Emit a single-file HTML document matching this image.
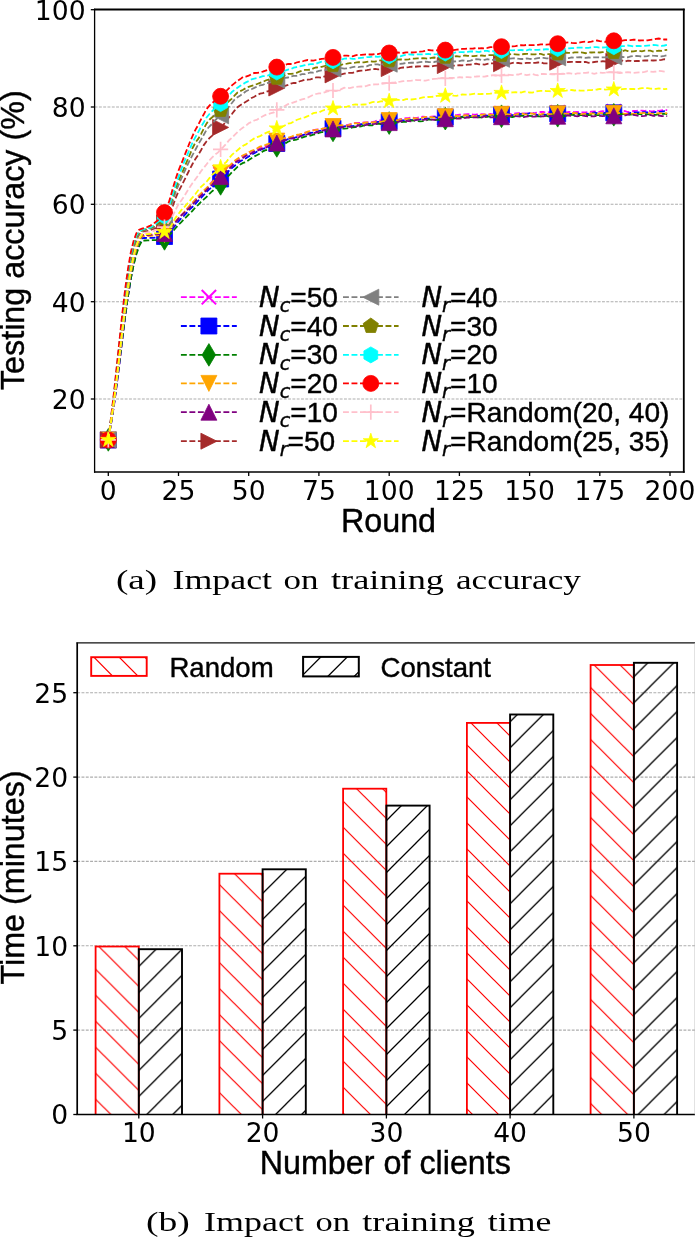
<!DOCTYPE html>
<html lang="en"><head><meta charset="utf-8"><title>Impact of number of clients</title>
<style>html,body{margin:0;padding:0;background:#fff}svg{display:block;will-change:transform}</style></head>
<body>
<svg width="695" height="1240" viewBox="0 0 695 1240">
<rect width="695" height="1240" fill="#fff"/>
<defs>
<clipPath id="ca"><rect x="94.6" y="9.5" width="589.2" height="462.5"/></clipPath>
</defs>
<g stroke="#adadad" stroke-width="1.1" stroke-dasharray="2.9 1.4" fill="none">
<path d="M94.6 399.0H683.8"/>
<path d="M94.6 301.7H683.8"/>
<path d="M94.6 204.3H683.8"/>
<path d="M94.6 107.0H683.8"/>
</g>
<g clip-path="url(#ca)">
<path d="M108.3 439.9L111.1 423.6L113.9 406.1L116.7 385.4L119.5 363.1L122.3 339.7L125.2 316.4L128.0 296.2L130.8 278.2L133.6 263.3L136.4 251.2L139.2 242.1L142.0 235.2L144.8 235.1L147.6 235.1L150.4 235.0L153.2 234.7L156.0 234.4L158.9 234.3L161.7 234.2L164.5 233.5L167.3 231.4L170.1 228.4L172.9 224.2L175.7 221.1L178.5 218.5L181.3 215.5L184.1 212.7L186.9 208.8L189.7 206.0L192.6 203.0L195.4 199.7L198.2 197.3L201.0 194.1L203.8 191.7L206.6 188.7L209.4 185.5L212.2 181.7L215.0 178.7L217.8 176.6L220.6 174.2L223.4 171.5L226.3 168.9L229.1 166.9L231.9 165.0L234.7 162.6L237.5 159.5L240.3 156.9L243.1 155.9L245.9 154.6L248.7 152.5L251.5 151.4L254.3 150.3L257.2 149.0L260.0 148.0L262.8 147.0L265.6 146.1L268.4 144.5L271.2 143.3L274.0 142.1L276.8 141.6L279.6 141.4L282.4 139.8L285.2 138.2L288.0 138.0L290.9 137.6L293.7 136.9L296.5 136.0L299.3 135.0L302.1 134.1L304.9 132.7L307.7 132.2L310.5 131.4L313.3 130.2L316.1 129.6L318.9 129.5L321.7 128.9L324.6 128.2L327.4 128.2L330.2 128.1L333.0 127.0L335.8 126.0L338.6 125.9L341.4 126.0L344.2 125.5L347.0 125.1L349.8 124.5L352.6 123.4L355.4 122.9L358.3 122.9L361.1 122.7L363.9 122.4L366.7 122.3L369.5 122.2L372.3 122.1L375.1 121.3L377.9 120.3L380.7 120.4L383.5 120.8L386.3 120.7L389.2 120.1L392.0 119.8L394.8 119.6L397.6 119.8L400.4 119.2L403.2 118.8L406.0 118.1L408.8 117.9L411.6 117.5L414.4 117.9L417.2 117.8L420.0 117.2L422.9 116.7L425.7 116.8L428.5 117.2L431.3 116.7L434.1 116.5L436.9 116.5L439.7 116.2L442.5 115.4L445.3 115.8L448.1 115.9L450.9 115.3L453.7 115.2L456.6 115.1L459.4 114.7L462.2 114.5L465.0 114.4L467.8 114.1L470.6 114.3L473.4 114.6L476.2 114.5L479.0 114.3L481.8 114.1L484.6 114.5L487.4 114.6L490.3 114.0L493.1 114.3L495.9 114.3L498.7 113.6L501.5 113.3L504.3 113.2L507.1 113.5L509.9 113.8L512.7 113.8L515.5 113.4L518.3 113.2L521.1 113.3L524.0 113.3L526.8 113.4L529.6 113.2L532.4 113.4L535.2 112.9L538.0 112.3L540.8 111.9L543.6 112.0L546.4 112.8L549.2 112.2L552.0 111.8L554.9 112.0L557.7 112.4L560.5 112.0L563.3 111.7L566.1 112.5L568.9 112.0L571.7 111.7L574.5 112.1L577.3 112.0L580.1 112.4L582.9 112.5L585.7 112.3L588.6 111.9L591.4 111.7L594.2 111.5L597.0 111.9L599.8 111.7L602.6 111.2L605.4 111.4L608.2 111.8L611.0 111.4L613.8 111.4L616.6 111.2L619.4 111.0L622.3 110.7L625.1 111.2L627.9 112.0L630.7 111.7L633.5 111.0L636.3 110.8L639.1 110.5L641.9 110.7L644.7 110.9L647.5 110.6L650.3 111.1L653.1 111.3L656.0 110.3L658.8 110.9L661.6 110.4L664.4 110.0L667.2 110.2" fill="none" stroke="#ff00ff" stroke-width="1.8" stroke-dasharray="5.9 2.6"/>
<path d="M101.1 432.7L115.5 447.1M101.1 447.1L115.5 432.7" stroke="#ff00ff" stroke-width="2" fill="none"/>
<path d="M157.3 226.3L171.7 240.7M157.3 240.7L171.7 226.3" stroke="#ff00ff" stroke-width="2" fill="none"/>
<path d="M213.4 167.0L227.8 181.4M213.4 181.4L227.8 167.0" stroke="#ff00ff" stroke-width="2" fill="none"/>
<path d="M269.6 134.4L284.0 148.8M269.6 148.8L284.0 134.4" stroke="#ff00ff" stroke-width="2" fill="none"/>
<path d="M325.8 119.8L340.2 134.2M325.8 134.2L340.2 119.8" stroke="#ff00ff" stroke-width="2" fill="none"/>
<path d="M382.0 112.9L396.4 127.3M382.0 127.3L396.4 112.9" stroke="#ff00ff" stroke-width="2" fill="none"/>
<path d="M438.1 108.6L452.5 123.0M438.1 123.0L452.5 108.6" stroke="#ff00ff" stroke-width="2" fill="none"/>
<path d="M494.3 106.1L508.7 120.5M494.3 120.5L508.7 106.1" stroke="#ff00ff" stroke-width="2" fill="none"/>
<path d="M550.5 105.2L564.9 119.6M550.5 119.6L564.9 105.2" stroke="#ff00ff" stroke-width="2" fill="none"/>
<path d="M606.6 104.2L621.0 118.6M606.6 118.6L621.0 104.2" stroke="#ff00ff" stroke-width="2" fill="none"/>
<path d="M108.3 439.9L111.1 423.3L113.9 405.6L116.7 384.7L119.5 362.5L122.3 339.1L125.2 316.2L128.0 296.3L130.8 278.7L133.6 264.4L136.4 252.9L139.2 244.4L142.0 238.2L144.8 238.0L147.6 237.9L150.4 237.9L153.2 237.8L156.0 237.5L158.9 237.2L161.7 236.7L164.5 236.5L167.3 234.0L170.1 231.5L172.9 228.4L175.7 224.9L178.5 221.3L181.3 218.2L184.1 215.7L186.9 212.6L189.7 209.4L192.6 206.8L195.4 203.9L198.2 200.7L201.0 197.9L203.8 194.9L206.6 191.8L209.4 189.1L212.2 187.0L215.0 184.5L217.8 181.6L220.6 179.0L223.4 176.9L226.3 173.4L229.1 170.6L231.9 168.0L234.7 165.8L237.5 163.0L240.3 161.3L243.1 159.8L245.9 158.3L248.7 156.4L251.5 154.7L254.3 153.2L257.2 151.5L260.0 150.2L262.8 148.8L265.6 148.0L268.4 147.1L271.2 145.6L274.0 144.1L276.8 143.5L279.6 142.3L282.4 142.1L285.2 140.5L288.0 139.1L290.9 138.6L293.7 138.1L296.5 137.1L299.3 136.3L302.1 135.3L304.9 134.4L307.7 133.3L310.5 132.9L313.3 132.6L316.1 131.5L318.9 130.8L321.7 130.7L324.6 130.5L327.4 130.2L330.2 128.9L333.0 128.4L335.8 129.1L338.6 128.5L341.4 127.3L344.2 126.4L347.0 126.2L349.8 125.9L352.6 126.1L355.4 125.7L358.3 124.6L361.1 124.2L363.9 124.0L366.7 123.5L369.5 123.8L372.3 123.4L375.1 122.4L377.9 121.9L380.7 122.0L383.5 121.6L386.3 121.8L389.2 121.6L392.0 121.6L394.8 121.7L397.6 120.8L400.4 120.2L403.2 120.3L406.0 119.9L408.8 119.5L411.6 120.1L414.4 120.2L417.2 119.7L420.0 119.3L422.9 118.3L425.7 118.3L428.5 118.7L431.3 118.1L434.1 117.0L436.9 117.7L439.7 117.9L442.5 117.3L445.3 117.2L448.1 117.0L450.9 117.4L453.7 117.2L456.6 116.5L459.4 116.6L462.2 116.8L465.0 115.8L467.8 115.6L470.6 115.9L473.4 115.9L476.2 115.7L479.0 115.9L481.8 116.0L484.6 115.5L487.4 115.7L490.3 115.3L493.1 115.5L495.9 115.2L498.7 114.7L501.5 114.8L504.3 115.1L507.1 115.4L509.9 115.2L512.7 115.1L515.5 114.8L518.3 114.3L521.1 113.8L524.0 113.7L526.8 114.0L529.6 113.1L532.4 113.1L535.2 114.3L538.0 115.0L540.8 114.4L543.6 114.3L546.4 114.8L549.2 114.2L552.0 114.1L554.9 114.1L557.7 113.8L560.5 113.4L563.3 113.7L566.1 113.7L568.9 113.9L571.7 113.9L574.5 113.5L577.3 113.3L580.1 113.9L582.9 114.2L585.7 113.6L588.6 113.8L591.4 113.2L594.2 112.5L597.0 113.1L599.8 113.7L602.6 113.6L605.4 112.7L608.2 112.7L611.0 112.6L613.8 112.8L616.6 112.7L619.4 113.0L622.3 113.5L625.1 114.1L627.9 113.6L630.7 112.8L633.5 112.5L636.3 112.3L639.1 112.4L641.9 112.2L644.7 112.1L647.5 112.5L650.3 112.6L653.1 112.7L656.0 111.9L658.8 111.8L661.6 111.6L664.4 111.1L667.2 111.3" fill="none" stroke="#0000ff" stroke-width="1.8" stroke-dasharray="5.9 2.6"/>
<polygon points="100.3,431.9 116.3,431.9 116.3,447.9 100.3,447.9" fill="#0000ff" stroke="#0000ff" stroke-width="0.8"/>
<polygon points="156.5,228.5 172.5,228.5 172.5,244.5 156.5,244.5" fill="#0000ff" stroke="#0000ff" stroke-width="0.8"/>
<polygon points="212.6,171.0 228.6,171.0 228.6,187.0 212.6,187.0" fill="#0000ff" stroke="#0000ff" stroke-width="0.8"/>
<polygon points="268.8,135.5 284.8,135.5 284.8,151.5 268.8,151.5" fill="#0000ff" stroke="#0000ff" stroke-width="0.8"/>
<polygon points="325.0,120.4 341.0,120.4 341.0,136.4 325.0,136.4" fill="#0000ff" stroke="#0000ff" stroke-width="0.8"/>
<polygon points="381.2,113.6 397.2,113.6 397.2,129.6 381.2,129.6" fill="#0000ff" stroke="#0000ff" stroke-width="0.8"/>
<polygon points="437.3,109.2 453.3,109.2 453.3,125.2 437.3,125.2" fill="#0000ff" stroke="#0000ff" stroke-width="0.8"/>
<polygon points="493.5,106.8 509.5,106.8 509.5,122.8 493.5,122.8" fill="#0000ff" stroke="#0000ff" stroke-width="0.8"/>
<polygon points="549.7,105.8 565.7,105.8 565.7,121.8 549.7,121.8" fill="#0000ff" stroke="#0000ff" stroke-width="0.8"/>
<polygon points="605.8,104.8 621.8,104.8 621.8,120.8 605.8,120.8" fill="#0000ff" stroke="#0000ff" stroke-width="0.8"/>
<path d="M108.3 439.9L111.1 423.0L113.9 405.0L116.7 383.9L119.5 361.6L122.3 338.4L125.2 315.6L128.0 296.1L130.8 278.9L133.6 265.0L136.4 254.1L139.2 246.2L142.0 240.6L144.8 240.5L147.6 240.4L150.4 240.2L153.2 240.1L156.0 240.0L158.9 239.7L161.7 240.1L164.5 238.9L167.3 237.6L170.1 234.4L172.9 231.3L175.7 228.0L178.5 224.8L181.3 222.2L184.1 219.1L186.9 216.4L189.7 213.6L192.6 210.7L195.4 207.4L198.2 204.8L201.0 201.9L203.8 199.3L206.6 196.9L209.4 193.9L212.2 191.2L215.0 188.9L217.8 186.6L220.6 183.9L223.4 180.6L226.3 177.4L229.1 175.3L231.9 172.3L234.7 169.6L237.5 166.8L240.3 164.5L243.1 162.9L245.9 162.2L248.7 160.1L251.5 158.2L254.3 156.4L257.2 155.0L260.0 153.5L262.8 151.4L265.6 150.1L268.4 150.2L271.2 148.6L274.0 146.9L276.8 145.9L279.6 145.2L282.4 144.6L285.2 143.4L288.0 141.7L290.9 140.5L293.7 140.1L296.5 139.6L299.3 138.5L302.1 137.6L304.9 136.6L307.7 136.0L310.5 135.5L313.3 134.7L316.1 134.2L318.9 132.9L321.7 132.2L324.6 132.2L327.4 131.5L330.2 131.1L333.0 130.4L335.8 129.4L338.6 129.2L341.4 128.7L344.2 128.6L347.0 128.4L349.8 128.0L352.6 127.4L355.4 127.0L358.3 126.6L361.1 126.3L363.9 125.5L366.7 125.0L369.5 125.4L372.3 125.3L375.1 124.3L377.9 123.7L380.7 124.0L383.5 124.1L386.3 123.2L389.2 123.1L392.0 123.2L394.8 122.6L397.6 122.4L400.4 122.3L403.2 121.8L406.0 121.9L408.8 121.2L411.6 120.5L414.4 120.7L417.2 121.1L420.0 121.3L422.9 121.1L425.7 120.6L428.5 119.4L431.3 119.6L434.1 120.0L436.9 119.9L439.7 119.6L442.5 119.3L445.3 118.7L448.1 118.1L450.9 118.5L453.7 118.6L456.6 117.9L459.4 117.1L462.2 117.1L465.0 117.6L467.8 117.4L470.6 117.2L473.4 116.9L476.2 117.0L479.0 117.4L481.8 117.4L484.6 116.9L487.4 116.8L490.3 116.1L493.1 116.4L495.9 116.8L498.7 116.6L501.5 116.2L504.3 116.2L507.1 116.0L509.9 116.8L512.7 117.0L515.5 116.2L518.3 116.1L521.1 115.9L524.0 115.9L526.8 115.9L529.6 115.8L532.4 116.2L535.2 116.1L538.0 116.4L540.8 116.4L543.6 115.7L546.4 115.8L549.2 116.7L552.0 116.5L554.9 115.7L557.7 115.8L560.5 115.9L563.3 116.0L566.1 115.9L568.9 114.8L571.7 114.9L574.5 115.0L577.3 115.0L580.1 114.9L582.9 115.0L585.7 115.2L588.6 115.0L591.4 114.9L594.2 114.7L597.0 115.2L599.8 115.2L602.6 114.6L605.4 114.3L608.2 114.7L611.0 115.1L613.8 114.8L616.6 114.7L619.4 114.0L622.3 113.9L625.1 114.0L627.9 114.4L630.7 114.6L633.5 114.0L636.3 113.7L639.1 114.1L641.9 114.3L644.7 114.1L647.5 114.3L650.3 114.3L653.1 114.7L656.0 114.8L658.8 114.2L661.6 113.9L664.4 113.6L667.2 114.2" fill="none" stroke="#008000" stroke-width="1.8" stroke-dasharray="5.9 2.6"/>
<polygon points="108.3,428.6 115.1,439.9 108.3,451.2 101.5,439.9" fill="#008000" stroke="#008000" stroke-width="0.8"/>
<polygon points="164.5,227.6 171.3,238.9 164.5,250.2 157.7,238.9" fill="#008000" stroke="#008000" stroke-width="0.8"/>
<polygon points="220.6,172.6 227.4,183.9 220.6,195.2 213.9,183.9" fill="#008000" stroke="#008000" stroke-width="0.8"/>
<polygon points="276.8,134.6 283.6,145.9 276.8,157.2 270.0,145.9" fill="#008000" stroke="#008000" stroke-width="0.8"/>
<polygon points="333.0,119.0 339.8,130.4 333.0,141.7 326.2,130.4" fill="#008000" stroke="#008000" stroke-width="0.8"/>
<polygon points="389.2,111.7 395.9,123.1 389.2,134.4 382.4,123.1" fill="#008000" stroke="#008000" stroke-width="0.8"/>
<polygon points="445.3,107.4 452.1,118.7 445.3,130.0 438.5,118.7" fill="#008000" stroke="#008000" stroke-width="0.8"/>
<polygon points="501.5,104.9 508.3,116.2 501.5,127.6 494.7,116.2" fill="#008000" stroke="#008000" stroke-width="0.8"/>
<polygon points="557.7,104.4 564.4,115.8 557.7,127.1 550.9,115.8" fill="#008000" stroke="#008000" stroke-width="0.8"/>
<polygon points="613.8,103.5 620.6,114.8 613.8,126.1 607.0,114.8" fill="#008000" stroke="#008000" stroke-width="0.8"/>
<path d="M108.3 439.9L111.1 422.0L113.9 403.0L116.7 381.0L119.5 357.8L122.3 333.9L125.2 310.5L128.0 290.6L130.8 273.3L133.6 259.5L136.4 248.9L139.2 241.4L142.0 236.2L144.8 236.1L147.6 236.0L150.4 235.9L153.2 235.7L156.0 235.5L158.9 235.1L161.7 234.9L164.5 234.5L167.3 232.2L170.1 229.1L172.9 226.0L175.7 221.6L178.5 218.1L181.3 215.3L184.1 212.3L186.9 209.3L189.7 205.6L192.6 202.7L195.4 199.6L198.2 196.2L201.0 193.4L203.8 190.4L206.6 187.9L209.4 185.0L212.2 182.2L215.0 178.8L217.8 175.5L220.6 173.2L223.4 170.4L226.3 168.5L229.1 166.1L231.9 163.4L234.7 160.8L237.5 158.7L240.3 157.0L243.1 155.3L245.9 154.0L248.7 152.4L251.5 150.7L254.3 149.8L257.2 148.3L260.0 146.7L262.8 145.8L265.6 144.9L268.4 143.9L271.2 142.6L274.0 142.8L276.8 141.1L279.6 140.5L282.4 138.7L285.2 138.0L288.0 137.6L290.9 137.0L293.7 135.7L296.5 134.9L299.3 134.5L302.1 134.0L304.9 133.1L307.7 131.7L310.5 130.9L313.3 130.3L316.1 129.9L318.9 129.7L321.7 128.8L324.6 128.3L327.4 127.4L330.2 126.8L333.0 126.5L335.8 126.4L338.6 125.4L341.4 125.1L344.2 125.5L347.0 125.8L349.8 124.6L352.6 123.6L355.4 123.2L358.3 123.6L361.1 123.5L363.9 123.0L366.7 122.4L369.5 122.7L372.3 122.4L375.1 122.1L377.9 121.8L380.7 121.8L383.5 121.2L386.3 121.0L389.2 120.6L392.0 120.1L394.8 119.9L397.6 120.3L400.4 119.5L403.2 119.2L406.0 119.2L408.8 118.6L411.6 118.5L414.4 118.2L417.2 118.6L420.0 118.5L422.9 117.5L425.7 116.8L428.5 117.1L431.3 117.2L434.1 117.6L436.9 117.8L439.7 117.1L442.5 116.6L445.3 116.7L448.1 117.2L450.9 117.2L453.7 116.4L456.6 115.9L459.4 116.4L462.2 116.0L465.0 115.2L467.8 115.5L470.6 116.0L473.4 116.2L476.2 115.9L479.0 115.0L481.8 114.9L484.6 114.3L487.4 114.3L490.3 114.8L493.1 114.7L495.9 114.2L498.7 114.2L501.5 114.3L504.3 114.7L507.1 114.2L509.9 114.7L512.7 115.2L515.5 114.6L518.3 113.8L521.1 113.3L524.0 114.1L526.8 114.3L529.6 113.4L532.4 113.7L535.2 114.2L538.0 114.5L540.8 114.3L543.6 113.5L546.4 113.9L549.2 114.2L552.0 113.9L554.9 113.4L557.7 113.8L560.5 113.6L563.3 113.5L566.1 113.7L568.9 113.9L571.7 113.3L574.5 112.9L577.3 113.5L580.1 114.1L582.9 114.1L585.7 113.6L588.6 113.6L591.4 113.5L594.2 113.6L597.0 113.9L599.8 113.2L602.6 113.2L605.4 113.3L608.2 113.1L611.0 112.9L613.8 113.3L616.6 113.5L619.4 113.0L622.3 113.4L625.1 113.9L627.9 114.0L630.7 113.7L633.5 113.8L636.3 113.6L639.1 113.2L641.9 113.1L644.7 112.9L647.5 113.1L650.3 113.5L653.1 113.6L656.0 113.5L658.8 113.1L661.6 113.3L664.4 113.4L667.2 113.1" fill="none" stroke="#ffa500" stroke-width="1.8" stroke-dasharray="5.9 2.6"/>
<polygon points="108.3,447.9 100.3,431.9 116.3,431.9" fill="#ffa500" stroke="#ffa500" stroke-width="0.8"/>
<polygon points="164.5,242.5 156.5,226.5 172.5,226.5" fill="#ffa500" stroke="#ffa500" stroke-width="0.8"/>
<polygon points="220.6,181.2 212.6,165.2 228.6,165.2" fill="#ffa500" stroke="#ffa500" stroke-width="0.8"/>
<polygon points="276.8,149.1 268.8,133.1 284.8,133.1" fill="#ffa500" stroke="#ffa500" stroke-width="0.8"/>
<polygon points="333.0,134.5 325.0,118.5 341.0,118.5" fill="#ffa500" stroke="#ffa500" stroke-width="0.8"/>
<polygon points="389.2,128.6 381.2,112.6 397.2,112.6" fill="#ffa500" stroke="#ffa500" stroke-width="0.8"/>
<polygon points="445.3,124.7 437.3,108.7 453.3,108.7" fill="#ffa500" stroke="#ffa500" stroke-width="0.8"/>
<polygon points="501.5,122.3 493.5,106.3 509.5,106.3" fill="#ffa500" stroke="#ffa500" stroke-width="0.8"/>
<polygon points="557.7,121.8 549.7,105.8 565.7,105.8" fill="#ffa500" stroke="#ffa500" stroke-width="0.8"/>
<polygon points="613.8,121.3 605.8,105.3 621.8,105.3" fill="#ffa500" stroke="#ffa500" stroke-width="0.8"/>
<path d="M108.3 439.9L111.1 421.3L113.9 401.8L116.7 379.2L119.5 355.5L122.3 331.2L125.2 307.7L128.0 287.8L130.8 270.6L133.6 257.1L136.4 246.8L139.2 239.9L142.0 235.2L144.8 235.1L147.6 235.0L150.4 234.9L153.2 234.6L156.0 234.3L158.9 234.0L161.7 234.0L164.5 233.5L167.3 232.0L170.1 228.9L172.9 226.1L175.7 222.1L178.5 218.6L181.3 215.3L184.1 212.8L186.9 210.4L189.7 207.7L192.6 204.5L195.4 201.3L198.2 198.3L201.0 195.7L203.8 193.0L206.6 189.9L209.4 186.9L212.2 184.7L215.0 181.7L217.8 178.5L220.6 176.6L223.4 174.0L226.3 171.3L229.1 169.0L231.9 166.2L234.7 163.0L237.5 161.0L240.3 160.1L243.1 157.8L245.9 155.7L248.7 154.9L251.5 153.3L254.3 151.5L257.2 150.7L260.0 149.4L262.8 148.5L265.6 147.8L268.4 146.2L271.2 144.9L274.0 143.4L276.8 143.0L279.6 141.6L282.4 141.2L285.2 140.2L288.0 139.2L290.9 138.4L293.7 138.3L296.5 137.9L299.3 137.0L302.1 135.5L304.9 134.7L307.7 134.4L310.5 133.8L313.3 133.1L316.1 132.5L318.9 131.8L321.7 130.9L324.6 129.8L327.4 129.6L330.2 129.7L333.0 128.9L335.8 128.0L338.6 127.7L341.4 127.4L344.2 126.8L347.0 126.4L349.8 126.9L352.6 126.9L355.4 126.6L358.3 125.6L361.1 125.4L363.9 125.3L366.7 124.9L369.5 124.2L372.3 124.1L375.1 123.9L377.9 123.3L380.7 123.7L383.5 123.3L386.3 122.0L389.2 122.6L392.0 122.7L394.8 122.5L397.6 121.9L400.4 121.3L403.2 121.0L406.0 120.9L408.8 121.2L411.6 121.3L414.4 120.4L417.2 119.6L420.0 119.6L422.9 119.8L425.7 119.5L428.5 119.7L431.3 119.7L434.1 119.8L436.9 119.4L439.7 119.0L442.5 118.8L445.3 118.7L448.1 117.6L450.9 117.7L453.7 118.3L456.6 118.6L459.4 118.5L462.2 118.4L465.0 117.9L467.8 117.5L470.6 117.4L473.4 117.4L476.2 117.3L479.0 117.4L481.8 117.3L484.6 116.4L487.4 116.5L490.3 117.3L493.1 117.4L495.9 117.2L498.7 116.7L501.5 116.7L504.3 116.0L507.1 116.0L509.9 115.9L512.7 115.9L515.5 116.1L518.3 116.3L521.1 116.7L524.0 117.2L526.8 116.5L529.6 115.9L532.4 116.5L535.2 116.6L538.0 116.1L540.8 116.3L543.6 116.3L546.4 115.7L549.2 115.8L552.0 116.0L554.9 116.3L557.7 116.2L560.5 115.9L563.3 115.7L566.1 115.5L568.9 115.5L571.7 115.8L574.5 115.9L577.3 116.3L580.1 115.8L582.9 115.7L585.7 116.1L588.6 116.3L591.4 116.2L594.2 116.3L597.0 115.8L599.8 115.8L602.6 116.1L605.4 115.7L608.2 115.2L611.0 115.1L613.8 115.8L616.6 115.7L619.4 116.0L622.3 115.9L625.1 115.3L627.9 114.6L630.7 114.7L633.5 114.8L636.3 115.3L639.1 116.2L641.9 116.1L644.7 115.8L647.5 115.1L650.3 115.0L653.1 115.8L656.0 115.8L658.8 115.6L661.6 116.0L664.4 116.1L667.2 116.1" fill="none" stroke="#800080" stroke-width="1.8" stroke-dasharray="5.9 2.6"/>
<polygon points="108.3,431.9 100.3,447.9 116.3,447.9" fill="#800080" stroke="#800080" stroke-width="0.8"/>
<polygon points="164.5,225.5 156.5,241.5 172.5,241.5" fill="#800080" stroke="#800080" stroke-width="0.8"/>
<polygon points="220.6,168.6 212.6,184.6 228.6,184.6" fill="#800080" stroke="#800080" stroke-width="0.8"/>
<polygon points="276.8,135.0 268.8,151.0 284.8,151.0" fill="#800080" stroke="#800080" stroke-width="0.8"/>
<polygon points="333.0,120.9 325.0,136.9 341.0,136.9" fill="#800080" stroke="#800080" stroke-width="0.8"/>
<polygon points="389.2,114.6 381.2,130.6 397.2,130.6" fill="#800080" stroke="#800080" stroke-width="0.8"/>
<polygon points="445.3,110.7 437.3,126.7 453.3,126.7" fill="#800080" stroke="#800080" stroke-width="0.8"/>
<polygon points="501.5,108.7 493.5,124.7 509.5,124.7" fill="#800080" stroke="#800080" stroke-width="0.8"/>
<polygon points="557.7,108.2 549.7,124.2 565.7,124.2" fill="#800080" stroke="#800080" stroke-width="0.8"/>
<polygon points="613.8,107.8 605.8,123.8 621.8,123.8" fill="#800080" stroke="#800080" stroke-width="0.8"/>
<path d="M108.3 439.9L111.1 419.5L113.9 398.2L116.7 374.0L119.5 349.0L122.3 323.7L125.2 299.5L128.0 279.5L130.8 262.6L133.6 249.8L136.4 240.6L139.2 235.0L142.0 231.8L144.8 231.2L147.6 230.8L150.4 229.9L153.2 229.0L156.0 228.2L158.9 226.4L161.7 224.8L164.5 222.8L167.3 219.2L170.1 212.8L172.9 205.6L175.7 197.9L178.5 191.5L181.3 186.1L184.1 180.6L186.9 175.0L189.7 169.4L192.6 163.8L195.4 159.0L198.2 154.9L201.0 150.3L203.8 145.1L206.6 141.3L209.4 138.2L212.2 135.6L215.0 132.6L217.8 130.4L220.6 127.4L223.4 124.9L226.3 121.0L229.1 117.2L231.9 114.0L234.7 110.4L237.5 107.2L240.3 105.2L243.1 103.5L245.9 101.7L248.7 100.0L251.5 98.0L254.3 96.7L257.2 95.0L260.0 93.7L262.8 93.2L265.6 92.0L268.4 91.1L271.2 90.4L274.0 89.2L276.8 88.0L279.6 86.8L282.4 86.0L285.2 85.8L288.0 84.9L290.9 83.6L293.7 82.9L296.5 83.0L299.3 81.5L302.1 80.7L304.9 79.8L307.7 79.7L310.5 79.4L313.3 78.4L316.1 77.4L318.9 77.4L321.7 77.6L324.6 76.5L327.4 76.4L330.2 76.0L333.0 74.9L335.8 75.5L338.6 74.9L341.4 74.3L344.2 73.6L347.0 73.0L349.8 72.8L352.6 72.8L355.4 71.9L358.3 71.0L361.1 70.6L363.9 70.6L366.7 70.2L369.5 69.7L372.3 69.1L375.1 68.9L377.9 69.4L380.7 69.2L383.5 68.3L386.3 67.8L389.2 68.6L392.0 69.1L394.8 69.0L397.6 69.2L400.4 67.9L403.2 67.5L406.0 67.5L408.8 67.2L411.6 66.7L414.4 66.8L417.2 66.5L420.0 66.4L422.9 66.3L425.7 66.2L428.5 66.4L431.3 66.5L434.1 65.9L436.9 65.6L439.7 65.7L442.5 65.4L445.3 65.6L448.1 65.9L450.9 65.7L453.7 65.6L456.6 65.5L459.4 65.2L462.2 65.3L465.0 65.1L467.8 64.7L470.6 64.5L473.4 64.1L476.2 63.7L479.0 64.3L481.8 64.4L484.6 64.6L487.4 63.9L490.3 63.4L493.1 63.4L495.9 64.0L498.7 63.8L501.5 63.7L504.3 63.4L507.1 63.3L509.9 63.5L512.7 62.8L515.5 62.7L518.3 63.0L521.1 63.4L524.0 63.2L526.8 62.9L529.6 62.8L532.4 62.9L535.2 62.8L538.0 62.5L540.8 62.3L543.6 63.3L546.4 63.4L549.2 63.3L552.0 63.0L554.9 63.0L557.7 62.2L560.5 62.1L563.3 62.3L566.1 62.3L568.9 62.0L571.7 61.8L574.5 61.9L577.3 62.0L580.1 61.9L582.9 62.1L585.7 61.8L588.6 62.8L591.4 62.4L594.2 62.0L597.0 61.6L599.8 61.8L602.6 61.2L605.4 61.5L608.2 60.7L611.0 60.9L613.8 61.3L616.6 60.7L619.4 60.1L622.3 60.7L625.1 61.6L627.9 60.7L630.7 60.8L633.5 61.3L636.3 60.8L639.1 61.0L641.9 60.6L644.7 60.4L647.5 60.5L650.3 60.3L653.1 60.5L656.0 60.3L658.8 60.3L661.6 59.9L664.4 59.2L667.2 59.5" fill="none" stroke="#a52a2a" stroke-width="1.8" stroke-dasharray="5.9 2.6"/>
<polygon points="116.3,439.9 100.3,431.9 100.3,447.9" fill="#a52a2a" stroke="#a52a2a" stroke-width="0.8"/>
<polygon points="172.5,222.8 156.5,214.8 156.5,230.8" fill="#a52a2a" stroke="#a52a2a" stroke-width="0.8"/>
<polygon points="228.6,127.4 212.6,119.4 212.6,135.4" fill="#a52a2a" stroke="#a52a2a" stroke-width="0.8"/>
<polygon points="284.8,88.0 268.8,80.0 268.8,96.0" fill="#a52a2a" stroke="#a52a2a" stroke-width="0.8"/>
<polygon points="341.0,74.9 325.0,66.9 325.0,82.9" fill="#a52a2a" stroke="#a52a2a" stroke-width="0.8"/>
<polygon points="397.2,68.6 381.2,60.6 381.2,76.6" fill="#a52a2a" stroke="#a52a2a" stroke-width="0.8"/>
<polygon points="453.3,65.6 437.3,57.6 437.3,73.6" fill="#a52a2a" stroke="#a52a2a" stroke-width="0.8"/>
<polygon points="509.5,63.7 493.5,55.7 493.5,71.7" fill="#a52a2a" stroke="#a52a2a" stroke-width="0.8"/>
<polygon points="565.7,62.2 549.7,54.2 549.7,70.2" fill="#a52a2a" stroke="#a52a2a" stroke-width="0.8"/>
<polygon points="621.8,61.3 605.8,53.3 605.8,69.3" fill="#a52a2a" stroke="#a52a2a" stroke-width="0.8"/>
<path d="M108.3 439.9L111.1 418.8L113.9 396.9L116.7 372.2L119.5 346.7L122.3 321.1L125.2 296.8L128.0 276.7L130.8 260.0L133.6 247.5L136.4 238.7L139.2 233.5L142.0 230.9L144.8 230.1L147.6 229.5L150.4 228.7L153.2 227.7L156.0 226.6L158.9 224.9L161.7 222.6L164.5 219.9L167.3 214.7L170.1 208.6L172.9 200.9L175.7 192.0L178.5 185.0L181.3 178.5L184.1 172.4L186.9 166.3L189.7 160.4L192.6 154.9L195.4 149.7L198.2 144.4L201.0 139.7L203.8 134.7L206.6 129.7L209.4 126.5L212.2 123.8L215.0 120.4L217.8 117.7L220.6 115.8L223.4 112.5L226.3 109.4L229.1 106.3L231.9 103.0L234.7 99.4L237.5 97.2L240.3 95.4L243.1 93.5L245.9 91.2L248.7 90.0L251.5 89.2L254.3 87.9L257.2 86.4L260.0 85.4L262.8 85.0L265.6 83.5L268.4 82.8L271.2 82.2L274.0 81.2L276.8 80.2L279.6 78.7L282.4 78.4L285.2 77.9L288.0 77.5L290.9 76.4L293.7 75.8L296.5 75.9L299.3 75.0L302.1 74.1L304.9 74.2L307.7 73.3L310.5 72.5L313.3 72.6L316.1 71.8L318.9 70.9L321.7 70.4L324.6 70.4L327.4 69.5L330.2 69.0L333.0 69.0L335.8 68.1L338.6 68.0L341.4 68.1L344.2 68.6L347.0 68.4L349.8 67.8L352.6 67.1L355.4 66.6L358.3 67.1L361.1 66.7L363.9 66.7L366.7 66.3L369.5 65.2L372.3 64.9L375.1 64.3L377.9 64.4L380.7 65.2L383.5 65.1L386.3 63.9L389.2 64.2L392.0 64.4L394.8 63.7L397.6 63.6L400.4 63.8L403.2 63.5L406.0 63.1L408.8 62.9L411.6 62.6L414.4 62.8L417.2 62.6L420.0 62.2L422.9 61.9L425.7 61.7L428.5 62.0L431.3 62.1L434.1 62.0L436.9 61.4L439.7 61.8L442.5 61.6L445.3 61.3L448.1 61.0L450.9 60.9L453.7 61.5L456.6 61.3L459.4 61.2L462.2 60.3L465.0 60.7L467.8 61.1L470.6 60.6L473.4 59.6L476.2 59.2L479.0 59.4L481.8 60.1L484.6 59.8L487.4 59.2L490.3 59.8L493.1 59.9L495.9 60.0L498.7 59.8L501.5 59.3L504.3 58.8L507.1 58.8L509.9 58.7L512.7 58.3L515.5 58.2L518.3 58.7L521.1 59.0L524.0 59.0L526.8 58.4L529.6 58.8L532.4 59.1L535.2 58.7L538.0 58.2L540.8 57.8L543.6 57.8L546.4 58.3L549.2 58.5L552.0 58.3L554.9 58.4L557.7 57.8L560.5 57.6L563.3 57.9L566.1 58.4L568.9 58.1L571.7 57.4L574.5 57.7L577.3 57.3L580.1 57.2L582.9 57.6L585.7 57.8L588.6 57.5L591.4 57.6L594.2 57.4L597.0 57.3L599.8 57.4L602.6 57.3L605.4 57.3L608.2 57.5L611.0 57.2L613.8 56.9L616.6 57.6L619.4 57.1L622.3 56.9L625.1 57.1L627.9 57.3L630.7 56.4L633.5 56.0L636.3 56.0L639.1 56.2L641.9 56.6L644.7 56.3L647.5 56.1L650.3 55.3L653.1 55.7L656.0 55.8L658.8 56.3L661.6 56.3L664.4 55.8L667.2 55.2" fill="none" stroke="#808080" stroke-width="1.8" stroke-dasharray="5.9 2.6"/>
<polygon points="100.3,439.9 116.3,431.9 116.3,447.9" fill="#808080" stroke="#808080" stroke-width="0.8"/>
<polygon points="156.5,219.9 172.5,211.9 172.5,227.9" fill="#808080" stroke="#808080" stroke-width="0.8"/>
<polygon points="212.6,115.8 228.6,107.8 228.6,123.8" fill="#808080" stroke="#808080" stroke-width="0.8"/>
<polygon points="268.8,80.2 284.8,72.2 284.8,88.2" fill="#808080" stroke="#808080" stroke-width="0.8"/>
<polygon points="325.0,69.0 341.0,61.0 341.0,77.0" fill="#808080" stroke="#808080" stroke-width="0.8"/>
<polygon points="381.2,64.2 397.2,56.2 397.2,72.2" fill="#808080" stroke="#808080" stroke-width="0.8"/>
<polygon points="437.3,61.3 453.3,53.3 453.3,69.3" fill="#808080" stroke="#808080" stroke-width="0.8"/>
<polygon points="493.5,59.3 509.5,51.3 509.5,67.3" fill="#808080" stroke="#808080" stroke-width="0.8"/>
<polygon points="549.7,57.8 565.7,49.8 565.7,65.8" fill="#808080" stroke="#808080" stroke-width="0.8"/>
<polygon points="605.8,56.9 621.8,48.9 621.8,64.9" fill="#808080" stroke="#808080" stroke-width="0.8"/>
<path d="M108.3 439.9L111.1 418.2L113.9 395.7L116.7 370.5L119.5 344.6L122.3 318.7L125.2 294.2L128.0 274.2L130.8 257.6L133.6 245.4L136.4 237.1L139.2 232.4L142.0 230.3L144.8 229.5L147.6 228.9L150.4 228.0L153.2 226.7L156.0 225.1L158.9 223.0L161.7 220.5L164.5 218.0L167.3 212.6L170.1 205.4L172.9 196.3L175.7 187.9L178.5 180.6L181.3 174.7L184.1 168.1L186.9 161.4L189.7 155.0L192.6 148.0L195.4 142.6L198.2 138.9L201.0 134.1L203.8 128.6L206.6 123.4L209.4 119.7L212.2 117.3L215.0 115.4L217.8 113.3L220.6 109.9L223.4 108.0L226.3 104.1L229.1 101.0L231.9 98.6L234.7 95.4L237.5 92.5L240.3 91.1L243.1 89.8L245.9 88.1L248.7 86.8L251.5 85.9L254.3 85.1L257.2 84.0L260.0 82.9L262.8 81.9L265.6 80.5L268.4 79.6L271.2 78.6L274.0 77.5L276.8 77.8L279.6 76.2L282.4 75.9L285.2 75.2L288.0 73.9L290.9 73.9L293.7 73.6L296.5 72.8L299.3 71.7L302.1 70.7L304.9 69.9L307.7 69.9L310.5 69.7L313.3 68.4L316.1 67.5L318.9 67.2L321.7 66.8L324.6 66.0L327.4 65.3L330.2 65.5L333.0 65.1L335.8 65.2L338.6 64.8L341.4 64.8L344.2 63.9L347.0 63.7L349.8 63.2L352.6 63.0L355.4 62.7L358.3 62.1L361.1 62.4L363.9 62.4L366.7 61.8L369.5 61.3L372.3 61.5L375.1 61.6L377.9 60.9L380.7 60.3L383.5 59.8L386.3 60.3L389.2 60.3L392.0 60.5L394.8 60.5L397.6 59.7L400.4 59.3L403.2 59.7L406.0 59.6L408.8 59.3L411.6 58.5L414.4 58.6L417.2 58.4L420.0 58.5L422.9 58.2L425.7 58.4L428.5 58.7L431.3 57.8L434.1 57.5L436.9 58.0L439.7 57.5L442.5 57.3L445.3 56.9L448.1 57.2L450.9 57.4L453.7 56.5L456.6 56.1L459.4 56.6L462.2 56.2L465.0 55.5L467.8 55.8L470.6 56.2L473.4 56.2L476.2 55.8L479.0 55.6L481.8 55.5L484.6 55.8L487.4 55.2L490.3 55.2L493.1 55.1L495.9 55.5L498.7 55.7L501.5 54.9L504.3 55.3L507.1 54.9L509.9 54.3L512.7 54.1L515.5 54.4L518.3 54.7L521.1 54.5L524.0 54.0L526.8 53.8L529.6 54.2L532.4 54.3L535.2 54.3L538.0 53.9L540.8 53.9L543.6 54.8L546.4 54.1L549.2 54.2L552.0 54.5L554.9 53.7L557.7 53.5L560.5 53.4L563.3 53.5L566.1 52.6L568.9 52.9L571.7 53.0L574.5 52.4L577.3 52.4L580.1 52.4L582.9 52.6L585.7 53.2L588.6 52.4L591.4 52.5L594.2 52.4L597.0 52.2L599.8 52.5L602.6 52.2L605.4 51.9L608.2 52.0L611.0 52.1L613.8 52.0L616.6 52.7L619.4 52.4L622.3 51.3L625.1 50.1L627.9 51.0L630.7 51.5L633.5 51.3L636.3 50.8L639.1 50.9L641.9 51.3L644.7 50.7L647.5 50.6L650.3 50.7L653.1 51.5L656.0 51.3L658.8 50.6L661.6 50.8L664.4 50.2L667.2 49.9" fill="none" stroke="#808000" stroke-width="1.8" stroke-dasharray="5.9 2.6"/>
<polygon points="108.3,431.9 115.9,437.4 113.0,446.4 103.6,446.4 100.7,437.4" fill="#808000" stroke="#808000" stroke-width="0.8"/>
<polygon points="164.5,210.0 172.1,215.5 169.2,224.4 159.8,224.4 156.9,215.5" fill="#808000" stroke="#808000" stroke-width="0.8"/>
<polygon points="220.6,101.9 228.2,107.4 225.3,116.4 215.9,116.4 213.0,107.4" fill="#808000" stroke="#808000" stroke-width="0.8"/>
<polygon points="276.8,69.8 284.4,75.3 281.5,84.3 272.1,84.3 269.2,75.3" fill="#808000" stroke="#808000" stroke-width="0.8"/>
<polygon points="333.0,57.1 340.6,62.7 337.7,71.6 328.3,71.6 325.4,62.7" fill="#808000" stroke="#808000" stroke-width="0.8"/>
<polygon points="389.2,52.3 396.8,57.8 393.9,66.8 384.4,66.8 381.5,57.8" fill="#808000" stroke="#808000" stroke-width="0.8"/>
<polygon points="445.3,48.9 452.9,54.4 450.0,63.3 440.6,63.3 437.7,54.4" fill="#808000" stroke="#808000" stroke-width="0.8"/>
<polygon points="501.5,46.9 509.1,52.5 506.2,61.4 496.8,61.4 493.9,52.5" fill="#808000" stroke="#808000" stroke-width="0.8"/>
<polygon points="557.7,45.5 565.3,51.0 562.4,59.9 553.0,59.9 550.1,51.0" fill="#808000" stroke="#808000" stroke-width="0.8"/>
<polygon points="613.8,44.0 621.4,49.5 618.5,58.5 609.1,58.5 606.2,49.5" fill="#808000" stroke="#808000" stroke-width="0.8"/>
<path d="M108.3 439.9L111.1 417.6L113.9 394.5L116.7 368.7L119.5 342.5L122.3 316.2L125.2 291.6L128.0 271.6L130.8 255.2L133.6 243.3L136.4 235.4L139.2 231.2L142.0 229.7L144.8 228.9L147.6 228.2L150.4 227.3L153.2 225.8L156.0 223.6L158.9 221.1L161.7 218.9L164.5 216.0L167.3 210.7L170.1 203.3L172.9 193.9L175.7 184.6L178.5 176.9L181.3 169.1L184.1 162.2L186.9 155.8L189.7 149.1L192.6 142.5L195.4 137.2L198.2 132.1L201.0 126.8L203.8 122.3L206.6 117.4L209.4 114.0L212.2 111.1L215.0 108.1L217.8 105.4L220.6 103.6L223.4 100.6L226.3 97.9L229.1 95.4L231.9 92.0L234.7 89.8L237.5 87.8L240.3 85.8L243.1 84.1L245.9 82.3L248.7 81.1L251.5 79.4L254.3 78.6L257.2 78.1L260.0 77.2L262.8 76.2L265.6 76.1L268.4 75.4L271.2 74.0L274.0 72.6L276.8 72.0L279.6 71.2L282.4 70.9L285.2 70.7L288.0 69.7L290.9 69.1L293.7 67.7L296.5 67.1L299.3 66.5L302.1 65.8L304.9 65.2L307.7 64.6L310.5 64.2L313.3 64.1L316.1 63.8L318.9 62.6L321.7 61.6L324.6 61.4L327.4 61.4L330.2 61.0L333.0 60.8L335.8 60.4L338.6 60.3L341.4 59.6L344.2 58.6L347.0 58.5L349.8 58.4L352.6 58.9L355.4 58.8L358.3 58.2L361.1 57.8L363.9 57.6L366.7 57.2L369.5 57.2L372.3 56.5L375.1 56.5L377.9 56.9L380.7 56.4L383.5 56.2L386.3 55.8L389.2 55.9L392.0 55.6L394.8 55.6L397.6 56.6L400.4 56.3L403.2 55.3L406.0 54.8L408.8 54.4L411.6 54.5L414.4 54.9L417.2 54.4L420.0 54.4L422.9 54.3L425.7 54.1L428.5 53.9L431.3 54.3L434.1 54.4L436.9 54.1L439.7 52.8L442.5 53.3L445.3 53.0L448.1 53.5L450.9 53.2L453.7 52.8L456.6 52.3L459.4 52.1L462.2 52.1L465.0 52.3L467.8 51.9L470.6 51.4L473.4 51.5L476.2 51.7L479.0 52.1L481.8 51.4L484.6 50.9L487.4 50.9L490.3 51.9L493.1 51.2L495.9 50.8L498.7 50.7L501.5 50.5L504.3 50.4L507.1 50.0L509.9 50.2L512.7 50.3L515.5 50.2L518.3 50.1L521.1 50.0L524.0 50.3L526.8 50.3L529.6 49.5L532.4 50.0L535.2 49.8L538.0 49.8L540.8 49.6L543.6 49.5L546.4 49.2L549.2 49.4L552.0 49.4L554.9 48.6L557.7 48.6L560.5 48.2L563.3 48.5L566.1 48.7L568.9 48.3L571.7 48.1L574.5 48.1L577.3 47.7L580.1 47.7L582.9 47.7L585.7 47.8L588.6 47.8L591.4 47.4L594.2 47.1L597.0 47.2L599.8 47.6L602.6 47.5L605.4 47.3L608.2 47.4L611.0 46.6L613.8 46.7L616.6 46.6L619.4 46.7L622.3 46.2L625.1 46.1L627.9 45.5L630.7 45.9L633.5 46.5L636.3 45.9L639.1 46.0L641.9 46.1L644.7 45.9L647.5 45.6L650.3 45.3L653.1 45.0L656.0 45.2L658.8 45.6L661.6 45.9L664.4 45.5L667.2 44.9" fill="none" stroke="#00ffff" stroke-width="1.8" stroke-dasharray="5.9 2.6"/>
<polygon points="108.3,431.9 115.2,435.9 115.2,443.9 108.3,447.9 101.4,443.9 101.4,435.9" fill="#00ffff" stroke="#00ffff" stroke-width="0.8"/>
<polygon points="164.5,208.0 171.4,212.0 171.4,220.0 164.5,224.0 157.5,220.0 157.5,212.0" fill="#00ffff" stroke="#00ffff" stroke-width="0.8"/>
<polygon points="220.6,95.6 227.6,99.6 227.6,107.6 220.6,111.6 213.7,107.6 213.7,99.6" fill="#00ffff" stroke="#00ffff" stroke-width="0.8"/>
<polygon points="276.8,64.0 283.7,68.0 283.7,76.0 276.8,80.0 269.9,76.0 269.9,68.0" fill="#00ffff" stroke="#00ffff" stroke-width="0.8"/>
<polygon points="333.0,52.8 339.9,56.8 339.9,64.8 333.0,68.8 326.1,64.8 326.1,56.8" fill="#00ffff" stroke="#00ffff" stroke-width="0.8"/>
<polygon points="389.2,47.9 396.1,51.9 396.1,59.9 389.2,63.9 382.2,59.9 382.2,51.9" fill="#00ffff" stroke="#00ffff" stroke-width="0.8"/>
<polygon points="445.3,45.0 452.2,49.0 452.2,57.0 445.3,61.0 438.4,57.0 438.4,49.0" fill="#00ffff" stroke="#00ffff" stroke-width="0.8"/>
<polygon points="501.5,42.5 508.4,46.5 508.4,54.5 501.5,58.5 494.6,54.5 494.6,46.5" fill="#00ffff" stroke="#00ffff" stroke-width="0.8"/>
<polygon points="557.7,40.6 564.6,44.6 564.6,52.6 557.7,56.6 550.7,52.6 550.7,44.6" fill="#00ffff" stroke="#00ffff" stroke-width="0.8"/>
<polygon points="613.8,38.7 620.8,42.7 620.8,50.7 613.8,54.7 606.9,50.7 606.9,42.7" fill="#00ffff" stroke="#00ffff" stroke-width="0.8"/>
<path d="M108.3 439.9L111.1 416.9L113.9 393.2L116.7 366.9L119.5 340.1L122.3 313.6L125.2 288.8L128.0 268.7L130.8 252.5L133.6 240.9L136.4 233.3L139.2 229.7L142.0 228.7L144.8 227.8L147.6 226.9L150.4 225.6L153.2 224.0L156.0 221.8L158.9 219.5L161.7 216.7L164.5 212.6L167.3 206.8L170.1 198.4L172.9 188.2L175.7 178.7L178.5 170.6L181.3 163.8L184.1 156.6L186.9 149.6L189.7 142.6L192.6 135.8L195.4 129.9L198.2 124.9L201.0 119.3L203.8 114.3L206.6 109.0L209.4 105.6L212.2 103.0L215.0 100.8L217.8 98.6L220.6 96.3L223.4 94.0L226.3 90.9L229.1 88.1L231.9 85.4L234.7 83.1L237.5 80.9L240.3 79.1L243.1 76.9L245.9 76.6L248.7 75.7L251.5 74.0L254.3 73.0L257.2 72.8L260.0 72.5L262.8 71.6L265.6 70.6L268.4 69.6L271.2 68.5L274.0 67.3L276.8 67.1L279.6 66.5L282.4 65.6L285.2 64.7L288.0 64.0L290.9 64.0L293.7 63.7L296.5 62.5L299.3 61.8L302.1 61.6L304.9 60.5L307.7 60.0L310.5 60.5L313.3 60.7L316.1 60.0L318.9 59.3L321.7 58.8L324.6 58.7L327.4 57.0L330.2 56.6L333.0 57.4L335.8 57.9L338.6 57.1L341.4 56.2L344.2 55.6L347.0 55.6L349.8 56.0L352.6 56.3L355.4 55.3L358.3 54.8L361.1 54.9L363.9 54.6L366.7 54.4L369.5 54.5L372.3 54.5L375.1 54.1L377.9 54.1L380.7 53.3L383.5 53.5L386.3 53.2L389.2 53.0L392.0 52.8L394.8 52.7L397.6 52.5L400.4 52.8L403.2 53.0L406.0 52.4L408.8 52.3L411.6 52.5L414.4 52.3L417.2 52.2L420.0 51.6L422.9 51.4L425.7 50.8L428.5 50.0L431.3 50.4L434.1 50.5L436.9 50.3L439.7 50.5L442.5 50.4L445.3 50.1L448.1 49.8L450.9 50.8L453.7 50.1L456.6 49.7L459.4 49.4L462.2 48.8L465.0 48.9L467.8 48.6L470.6 48.7L473.4 48.5L476.2 48.1L479.0 48.3L481.8 48.2L484.6 48.3L487.4 47.9L490.3 47.1L493.1 47.0L495.9 47.5L498.7 47.1L501.5 46.7L504.3 46.6L507.1 46.7L509.9 46.3L512.7 46.4L515.5 46.1L518.3 45.4L521.1 45.2L524.0 45.3L526.8 44.9L529.6 45.1L532.4 45.2L535.2 45.0L538.0 44.8L540.8 44.4L543.6 44.4L546.4 44.6L549.2 44.3L552.0 44.3L554.9 44.2L557.7 43.7L560.5 43.2L563.3 43.1L566.1 42.6L568.9 42.4L571.7 42.9L574.5 43.2L577.3 43.0L580.1 42.4L582.9 41.8L585.7 41.7L588.6 42.2L591.4 41.6L594.2 40.9L597.0 40.5L599.8 41.1L602.6 41.5L605.4 41.9L608.2 41.7L611.0 41.6L613.8 40.8L616.6 41.4L619.4 41.4L622.3 40.7L625.1 40.2L627.9 40.1L630.7 40.1L633.5 39.7L636.3 39.8L639.1 40.5L641.9 40.4L644.7 40.5L647.5 40.3L650.3 39.8L653.1 39.5L656.0 38.8L658.8 38.5L661.6 39.1L664.4 39.5L667.2 39.5" fill="none" stroke="#ff0000" stroke-width="1.8" stroke-dasharray="5.9 2.6"/>
<circle cx="108.3" cy="439.9" r="8.0" fill="#ff0000" stroke="#ff0000" stroke-width="0.8"/>
<circle cx="164.5" cy="212.6" r="8.0" fill="#ff0000" stroke="#ff0000" stroke-width="0.8"/>
<circle cx="220.6" cy="96.3" r="8.0" fill="#ff0000" stroke="#ff0000" stroke-width="0.8"/>
<circle cx="276.8" cy="67.1" r="8.0" fill="#ff0000" stroke="#ff0000" stroke-width="0.8"/>
<circle cx="333.0" cy="57.4" r="8.0" fill="#ff0000" stroke="#ff0000" stroke-width="0.8"/>
<circle cx="389.2" cy="53.0" r="8.0" fill="#ff0000" stroke="#ff0000" stroke-width="0.8"/>
<circle cx="445.3" cy="50.1" r="8.0" fill="#ff0000" stroke="#ff0000" stroke-width="0.8"/>
<circle cx="501.5" cy="46.7" r="8.0" fill="#ff0000" stroke="#ff0000" stroke-width="0.8"/>
<circle cx="557.7" cy="43.7" r="8.0" fill="#ff0000" stroke="#ff0000" stroke-width="0.8"/>
<circle cx="613.8" cy="40.8" r="8.0" fill="#ff0000" stroke="#ff0000" stroke-width="0.8"/>
<path d="M108.3 439.9L111.1 421.5L113.9 402.1L116.7 379.6L119.5 355.9L122.3 331.5L125.2 307.7L128.0 287.6L130.8 270.1L133.6 256.2L136.4 245.5L139.2 238.1L142.0 233.1L144.8 232.8L147.6 232.5L150.4 232.0L153.2 231.2L156.0 230.2L158.9 229.6L161.7 228.8L164.5 227.2L167.3 224.4L170.1 220.2L172.9 215.3L175.7 209.6L178.5 204.1L181.3 200.5L184.1 196.4L186.9 191.7L189.7 187.2L192.6 183.1L195.4 179.3L198.2 175.5L201.0 171.2L203.8 167.7L206.6 164.3L209.4 160.3L212.2 157.4L215.0 154.7L217.8 152.7L220.6 149.3L223.4 146.9L226.3 143.6L229.1 140.2L231.9 137.8L234.7 134.8L237.5 132.2L240.3 129.6L243.1 127.6L245.9 125.7L248.7 123.3L251.5 121.9L254.3 120.5L257.2 119.6L260.0 117.9L262.8 116.3L265.6 114.9L268.4 113.9L271.2 113.1L274.0 112.5L276.8 109.9L279.6 109.2L282.4 107.6L285.2 105.8L288.0 104.2L290.9 103.4L293.7 102.3L296.5 101.3L299.3 100.2L302.1 99.3L304.9 98.6L307.7 97.6L310.5 96.2L313.3 94.8L316.1 94.0L318.9 93.3L321.7 93.3L324.6 92.3L327.4 91.4L330.2 91.0L333.0 90.5L335.8 91.1L338.6 90.5L341.4 89.1L344.2 87.7L347.0 87.9L349.8 88.1L352.6 87.4L355.4 87.0L358.3 86.6L361.1 86.5L363.9 86.5L366.7 85.8L369.5 85.0L372.3 84.6L375.1 84.3L377.9 84.4L380.7 83.8L383.5 83.6L386.3 83.2L389.2 83.2L392.0 82.7L394.8 82.4L397.6 81.9L400.4 81.6L403.2 81.2L406.0 80.8L408.8 80.9L411.6 80.7L414.4 79.8L417.2 80.1L420.0 80.1L422.9 80.5L425.7 80.7L428.5 80.0L431.3 79.3L434.1 78.8L436.9 78.7L439.7 78.2L442.5 77.8L445.3 78.3L448.1 77.9L450.9 77.9L453.7 77.9L456.6 77.7L459.4 77.1L462.2 77.5L465.0 77.2L467.8 77.1L470.6 77.4L473.4 76.6L476.2 76.5L479.0 76.3L481.8 76.5L484.6 76.6L487.4 76.0L490.3 75.6L493.1 75.2L495.9 75.5L498.7 75.9L501.5 75.4L504.3 74.7L507.1 74.7L509.9 74.9L512.7 75.1L515.5 74.8L518.3 74.5L521.1 73.7L524.0 74.6L526.8 75.1L529.6 74.6L532.4 74.1L535.2 74.8L538.0 75.2L540.8 74.0L543.6 74.0L546.4 74.2L549.2 74.0L552.0 74.4L554.9 74.4L557.7 73.9L560.5 73.8L563.3 73.6L566.1 73.5L568.9 73.2L571.7 73.6L574.5 74.1L577.3 73.4L580.1 73.3L582.9 72.9L585.7 72.8L588.6 72.5L591.4 73.2L594.2 73.8L597.0 73.1L599.8 72.6L602.6 72.8L605.4 72.6L608.2 72.1L611.0 72.2L613.8 72.4L616.6 72.4L619.4 73.0L622.3 72.8L625.1 72.4L627.9 72.2L630.7 72.5L633.5 72.8L636.3 72.6L639.1 72.4L641.9 72.3L644.7 71.9L647.5 71.1L650.3 71.5L653.1 71.9L656.0 71.5L658.8 70.9L661.6 71.1L664.4 71.6L667.2 72.0" fill="none" stroke="#ffc0cb" stroke-width="1.8" stroke-dasharray="5.9 2.6"/>
<path d="M100.7 439.9L115.9 439.9M108.3 432.3L108.3 447.5" stroke="#ffc0cb" stroke-width="1.7" fill="none"/>
<path d="M156.9 227.2L172.1 227.2M164.5 219.6L164.5 234.8" stroke="#ffc0cb" stroke-width="1.7" fill="none"/>
<path d="M213.0 149.3L228.2 149.3M220.6 141.7L220.6 156.9" stroke="#ffc0cb" stroke-width="1.7" fill="none"/>
<path d="M269.2 109.9L284.4 109.9M276.8 102.3L276.8 117.5" stroke="#ffc0cb" stroke-width="1.7" fill="none"/>
<path d="M325.4 90.5L340.6 90.5M333.0 82.9L333.0 98.1" stroke="#ffc0cb" stroke-width="1.7" fill="none"/>
<path d="M381.6 83.2L396.8 83.2M389.2 75.6L389.2 90.8" stroke="#ffc0cb" stroke-width="1.7" fill="none"/>
<path d="M437.7 78.3L452.9 78.3M445.3 70.7L445.3 85.9" stroke="#ffc0cb" stroke-width="1.7" fill="none"/>
<path d="M493.9 75.4L509.1 75.4M501.5 67.8L501.5 83.0" stroke="#ffc0cb" stroke-width="1.7" fill="none"/>
<path d="M550.1 73.9L565.3 73.9M557.7 66.3L557.7 81.5" stroke="#ffc0cb" stroke-width="1.7" fill="none"/>
<path d="M606.2 72.4L621.4 72.4M613.8 64.8L613.8 80.0" stroke="#ffc0cb" stroke-width="1.7" fill="none"/>
<path d="M108.3 439.9L111.1 421.1L113.9 401.3L116.7 378.5L119.5 354.6L122.3 330.1L125.2 306.5L128.0 286.6L130.8 269.4L133.6 256.0L136.4 245.8L139.2 239.0L142.0 234.6L144.8 234.3L147.6 234.2L150.4 233.8L153.2 233.4L156.0 233.3L158.9 233.2L161.7 232.8L164.5 232.1L167.3 230.5L170.1 227.4L172.9 222.6L175.7 217.6L178.5 214.0L181.3 210.2L184.1 207.3L186.9 204.2L189.7 200.9L192.6 197.3L195.4 194.0L198.2 190.3L201.0 186.9L203.8 184.3L206.6 181.7L209.4 178.1L212.2 174.8L215.0 172.3L217.8 169.7L220.6 167.3L223.4 164.2L226.3 162.1L229.1 158.1L231.9 154.9L234.7 152.4L237.5 150.2L240.3 147.8L243.1 145.8L245.9 144.4L248.7 142.2L251.5 140.3L254.3 138.4L257.2 137.1L260.0 136.1L262.8 134.6L265.6 133.1L268.4 131.9L271.2 130.7L274.0 130.0L276.8 128.4L279.6 127.7L282.4 126.7L285.2 125.2L288.0 123.7L290.9 123.1L293.7 121.7L296.5 120.0L299.3 119.0L302.1 118.0L304.9 117.3L307.7 116.2L310.5 114.7L313.3 113.1L316.1 112.6L318.9 112.4L321.7 111.0L324.6 109.8L327.4 109.4L330.2 109.4L333.0 108.5L335.8 107.2L338.6 107.5L341.4 107.0L344.2 106.9L347.0 106.7L349.8 105.9L352.6 104.8L355.4 104.4L358.3 104.8L361.1 104.6L363.9 104.5L366.7 104.4L369.5 103.1L372.3 102.1L375.1 101.9L377.9 102.1L380.7 101.4L383.5 101.2L386.3 101.4L389.2 101.2L392.0 100.9L394.8 100.2L397.6 99.6L400.4 100.2L403.2 100.0L406.0 99.1L408.8 99.1L411.6 99.5L414.4 99.1L417.2 98.7L420.0 98.2L422.9 97.4L425.7 96.9L428.5 97.0L431.3 96.9L434.1 96.7L436.9 95.9L439.7 95.6L442.5 96.0L445.3 95.8L448.1 94.8L450.9 94.9L453.7 95.7L456.6 95.8L459.4 95.1L462.2 94.4L465.0 94.6L467.8 94.6L470.6 94.4L473.4 93.8L476.2 93.5L479.0 94.2L481.8 94.0L484.6 93.8L487.4 93.9L490.3 93.7L493.1 93.0L495.9 92.8L498.7 92.5L501.5 92.9L504.3 92.6L507.1 92.5L509.9 92.6L512.7 92.4L515.5 92.2L518.3 92.4L521.1 92.5L524.0 91.6L526.8 91.8L529.6 92.5L532.4 92.7L535.2 91.8L538.0 91.1L540.8 90.8L543.6 90.8L546.4 91.1L549.2 91.1L552.0 91.5L554.9 91.0L557.7 90.9L560.5 90.9L563.3 90.8L566.1 90.6L568.9 90.3L571.7 90.0L574.5 90.5L577.3 90.1L580.1 90.6L582.9 90.7L585.7 90.5L588.6 90.2L591.4 90.1L594.2 89.8L597.0 89.5L599.8 88.9L602.6 89.3L605.4 89.6L608.2 89.4L611.0 89.2L613.8 89.5L616.6 89.9L619.4 89.7L622.3 89.2L625.1 88.8L627.9 88.9L630.7 89.0L633.5 88.9L636.3 89.1L639.1 88.7L641.9 88.2L644.7 88.0L647.5 88.2L650.3 88.7L653.1 88.8L656.0 88.9L658.8 88.4L661.6 88.7L664.4 89.1L667.2 88.8" fill="none" stroke="#ffff00" stroke-width="1.8" stroke-dasharray="5.9 2.6"/>
<polygon points="108.3,431.9 110.1,437.4 115.9,437.4 111.2,440.8 113.0,446.4 108.3,442.9 103.6,446.4 105.4,440.8 100.7,437.4 106.5,437.4" fill="#ffff00" stroke="#ffff00" stroke-width="0.8"/>
<polygon points="164.5,224.1 166.3,229.6 172.1,229.6 167.4,233.0 169.2,238.5 164.5,235.1 159.8,238.5 161.6,233.0 156.9,229.6 162.7,229.6" fill="#ffff00" stroke="#ffff00" stroke-width="0.8"/>
<polygon points="220.6,159.3 222.4,164.9 228.2,164.9 223.5,168.3 225.3,173.8 220.6,170.4 215.9,173.8 217.7,168.3 213.0,164.9 218.8,164.9" fill="#ffff00" stroke="#ffff00" stroke-width="0.8"/>
<polygon points="276.8,120.4 278.6,125.9 284.4,125.9 279.7,129.4 281.5,134.9 276.8,131.5 272.1,134.9 273.9,129.4 269.2,125.9 275.0,125.9" fill="#ffff00" stroke="#ffff00" stroke-width="0.8"/>
<polygon points="333.0,100.5 334.8,106.0 340.6,106.0 335.9,109.4 337.7,114.9 333.0,111.5 328.3,114.9 330.1,109.4 325.4,106.0 331.2,106.0" fill="#ffff00" stroke="#ffff00" stroke-width="0.8"/>
<polygon points="389.2,93.2 390.9,98.7 396.8,98.7 392.1,102.1 393.9,107.6 389.2,104.2 384.4,107.6 386.2,102.1 381.5,98.7 387.4,98.7" fill="#ffff00" stroke="#ffff00" stroke-width="0.8"/>
<polygon points="445.3,87.8 447.1,93.3 452.9,93.3 448.2,96.8 450.0,102.3 445.3,98.9 440.6,102.3 442.4,96.8 437.7,93.3 443.5,93.3" fill="#ffff00" stroke="#ffff00" stroke-width="0.8"/>
<polygon points="501.5,84.9 503.3,90.4 509.1,90.4 504.4,93.8 506.2,99.4 501.5,95.9 496.8,99.4 498.6,93.8 493.9,90.4 499.7,90.4" fill="#ffff00" stroke="#ffff00" stroke-width="0.8"/>
<polygon points="557.7,82.9 559.5,88.5 565.3,88.5 560.6,91.9 562.4,97.4 557.7,94.0 553.0,97.4 554.8,91.9 550.1,88.5 555.9,88.5" fill="#ffff00" stroke="#ffff00" stroke-width="0.8"/>
<polygon points="613.8,81.5 615.6,87.0 621.4,87.0 616.7,90.4 618.5,96.0 613.8,92.5 609.1,96.0 610.9,90.4 606.2,87.0 612.0,87.0" fill="#ffff00" stroke="#ffff00" stroke-width="0.8"/>
</g>
<g stroke="#000" fill="none">
<path d="M94.6 8.7V472.8" stroke-width="1.3"/>
<path d="M683.8 8.7V472.8" stroke-width="1.8"/>
<path d="M94.0 9.5H684.7" stroke-width="1.8"/>
<path d="M94.0 472.0H684.7" stroke-width="1.6"/>
<g stroke-width="1.3">
<path d="M90.8 399.0H94.6"/>
<path d="M90.8 301.7H94.6"/>
<path d="M90.8 204.3H94.6"/>
<path d="M90.8 107.0H94.6"/>
<path d="M90.8 9.7H94.6"/>
<path d="M108.3 472.0V476.0"/>
<path d="M178.5 472.0V476.0"/>
<path d="M248.7 472.0V476.0"/>
<path d="M318.9 472.0V476.0"/>
<path d="M389.2 472.0V476.0"/>
<path d="M459.4 472.0V476.0"/>
<path d="M529.6 472.0V476.0"/>
<path d="M599.8 472.0V476.0"/>
<path d="M670.0 472.0V476.0"/>
</g></g>
<g font-family="'DejaVu Sans',sans-serif" font-size="26.6" fill="#000">
<g text-anchor="end">
<text x="85.6" y="408.8">20</text>
<text x="85.6" y="311.5">40</text>
<text x="85.6" y="214.1">60</text>
<text x="85.6" y="116.8">80</text>
<text x="85.6" y="19.5">100</text>
</g><g text-anchor="middle">
<text x="108.3" y="499.6">0</text>
<text x="178.5" y="499.6">25</text>
<text x="248.7" y="499.6">50</text>
<text x="318.9" y="499.6">75</text>
<text x="389.2" y="499.6">100</text>
<text x="459.4" y="499.6">125</text>
<text x="529.6" y="499.6">150</text>
<text x="599.8" y="499.6">175</text>
<text x="670.0" y="499.6">200</text>
</g></g>
<g font-family="'Liberation Sans',sans-serif" font-size="32.3" fill="#000" stroke="#000" stroke-width="0.4">
<text x="388.5" y="531.8" text-anchor="middle">Round</text>
<text transform="translate(23.8 240.2) rotate(-90)" text-anchor="middle">Testing accuracy (%)</text>
</g>
<g>
<path d="M180.9 297.2H236.8" stroke="#ff00ff" stroke-width="1.8" stroke-dasharray="5.9 2.6" fill="none"/>
<path d="M201.7 290.0L216.1 304.4M201.7 304.4L216.1 290.0" stroke="#ff00ff" stroke-width="2" fill="none"/>
<text y="306.7" font-size="27.6" fill="#000" stroke="#000" stroke-width="0.4"><tspan x="259.0" font-family="'DejaVu Sans',sans-serif" font-style="italic">N</tspan><tspan font-family="'DejaVu Sans',sans-serif" font-style="italic" font-size="19.3" dy="5.4">c</tspan><tspan font-family="'Liberation Sans',sans-serif" font-size="28.1" dy="-5.4">=50</tspan></text>
<path d="M180.9 326.0H236.8" stroke="#0000ff" stroke-width="1.8" stroke-dasharray="5.9 2.6" fill="none"/>
<polygon points="200.9,318.0 216.9,318.0 216.9,334.0 200.9,334.0" fill="#0000ff" stroke="#0000ff" stroke-width="0.8"/>
<text y="335.5" font-size="27.6" fill="#000" stroke="#000" stroke-width="0.4"><tspan x="259.0" font-family="'DejaVu Sans',sans-serif" font-style="italic">N</tspan><tspan font-family="'DejaVu Sans',sans-serif" font-style="italic" font-size="19.3" dy="5.4">c</tspan><tspan font-family="'Liberation Sans',sans-serif" font-size="28.1" dy="-5.4">=40</tspan></text>
<path d="M180.9 354.9H236.8" stroke="#008000" stroke-width="1.8" stroke-dasharray="5.9 2.6" fill="none"/>
<polygon points="208.9,343.6 215.6,354.9 208.9,366.2 202.1,354.9" fill="#008000" stroke="#008000" stroke-width="0.8"/>
<text y="364.4" font-size="27.6" fill="#000" stroke="#000" stroke-width="0.4"><tspan x="259.0" font-family="'DejaVu Sans',sans-serif" font-style="italic">N</tspan><tspan font-family="'DejaVu Sans',sans-serif" font-style="italic" font-size="19.3" dy="5.4">c</tspan><tspan font-family="'Liberation Sans',sans-serif" font-size="28.1" dy="-5.4">=30</tspan></text>
<path d="M180.9 383.4H236.8" stroke="#ffa500" stroke-width="1.8" stroke-dasharray="5.9 2.6" fill="none"/>
<polygon points="208.9,391.4 200.9,375.4 216.9,375.4" fill="#ffa500" stroke="#ffa500" stroke-width="0.8"/>
<text y="392.9" font-size="27.6" fill="#000" stroke="#000" stroke-width="0.4"><tspan x="259.0" font-family="'DejaVu Sans',sans-serif" font-style="italic">N</tspan><tspan font-family="'DejaVu Sans',sans-serif" font-style="italic" font-size="19.3" dy="5.4">c</tspan><tspan font-family="'Liberation Sans',sans-serif" font-size="28.1" dy="-5.4">=20</tspan></text>
<path d="M180.9 412.2H236.8" stroke="#800080" stroke-width="1.8" stroke-dasharray="5.9 2.6" fill="none"/>
<polygon points="208.9,404.2 200.9,420.2 216.9,420.2" fill="#800080" stroke="#800080" stroke-width="0.8"/>
<text y="421.7" font-size="27.6" fill="#000" stroke="#000" stroke-width="0.4"><tspan x="259.0" font-family="'DejaVu Sans',sans-serif" font-style="italic">N</tspan><tspan font-family="'DejaVu Sans',sans-serif" font-style="italic" font-size="19.3" dy="5.4">c</tspan><tspan font-family="'Liberation Sans',sans-serif" font-size="28.1" dy="-5.4">=10</tspan></text>
<path d="M180.9 441.2H236.8" stroke="#a52a2a" stroke-width="1.8" stroke-dasharray="5.9 2.6" fill="none"/>
<polygon points="216.9,441.2 200.9,433.2 200.9,449.2" fill="#a52a2a" stroke="#a52a2a" stroke-width="0.8"/>
<text y="450.7" font-size="27.6" fill="#000" stroke="#000" stroke-width="0.4"><tspan x="259.0" font-family="'DejaVu Sans',sans-serif" font-style="italic">N</tspan><tspan font-family="'DejaVu Sans',sans-serif" font-style="italic" font-size="19.3" dy="5.4">r</tspan><tspan font-family="'Liberation Sans',sans-serif" font-size="28.1" dy="-5.4">=50</tspan></text>
<path d="M343.0 297.2H398.6" stroke="#808080" stroke-width="1.8" stroke-dasharray="5.9 2.6" fill="none"/>
<polygon points="362.8,297.2 378.8,289.2 378.8,305.2" fill="#808080" stroke="#808080" stroke-width="0.8"/>
<text y="306.7" font-size="27.6" fill="#000" stroke="#000" stroke-width="0.4"><tspan x="421.4" font-family="'DejaVu Sans',sans-serif" font-style="italic">N</tspan><tspan font-family="'DejaVu Sans',sans-serif" font-style="italic" font-size="19.3" dy="5.4">r</tspan><tspan font-family="'Liberation Sans',sans-serif" font-size="28.1" dy="-5.4">=40</tspan></text>
<path d="M343.0 326.0H398.6" stroke="#808000" stroke-width="1.8" stroke-dasharray="5.9 2.6" fill="none"/>
<polygon points="370.8,318.0 378.4,323.5 375.5,332.5 366.1,332.5 363.2,323.5" fill="#808000" stroke="#808000" stroke-width="0.8"/>
<text y="335.5" font-size="27.6" fill="#000" stroke="#000" stroke-width="0.4"><tspan x="421.4" font-family="'DejaVu Sans',sans-serif" font-style="italic">N</tspan><tspan font-family="'DejaVu Sans',sans-serif" font-style="italic" font-size="19.3" dy="5.4">r</tspan><tspan font-family="'Liberation Sans',sans-serif" font-size="28.1" dy="-5.4">=30</tspan></text>
<path d="M343.0 354.9H398.6" stroke="#00ffff" stroke-width="1.8" stroke-dasharray="5.9 2.6" fill="none"/>
<polygon points="370.8,346.9 377.7,350.9 377.7,358.9 370.8,362.9 363.9,358.9 363.9,350.9" fill="#00ffff" stroke="#00ffff" stroke-width="0.8"/>
<text y="364.4" font-size="27.6" fill="#000" stroke="#000" stroke-width="0.4"><tspan x="421.4" font-family="'DejaVu Sans',sans-serif" font-style="italic">N</tspan><tspan font-family="'DejaVu Sans',sans-serif" font-style="italic" font-size="19.3" dy="5.4">r</tspan><tspan font-family="'Liberation Sans',sans-serif" font-size="28.1" dy="-5.4">=20</tspan></text>
<path d="M343.0 383.4H398.6" stroke="#ff0000" stroke-width="1.8" stroke-dasharray="5.9 2.6" fill="none"/>
<circle cx="370.8" cy="383.4" r="8.0" fill="#ff0000" stroke="#ff0000" stroke-width="0.8"/>
<text y="392.9" font-size="27.6" fill="#000" stroke="#000" stroke-width="0.4"><tspan x="421.4" font-family="'DejaVu Sans',sans-serif" font-style="italic">N</tspan><tspan font-family="'DejaVu Sans',sans-serif" font-style="italic" font-size="19.3" dy="5.4">r</tspan><tspan font-family="'Liberation Sans',sans-serif" font-size="28.1" dy="-5.4">=10</tspan></text>
<path d="M343.0 412.2H398.6" stroke="#ffc0cb" stroke-width="1.8" stroke-dasharray="5.9 2.6" fill="none"/>
<path d="M363.2 412.2L378.4 412.2M370.8 404.6L370.8 419.8" stroke="#ffc0cb" stroke-width="1.7" fill="none"/>
<text y="421.7" font-size="27.6" fill="#000" stroke="#000" stroke-width="0.4"><tspan x="421.4" font-family="'DejaVu Sans',sans-serif" font-style="italic">N</tspan><tspan font-family="'DejaVu Sans',sans-serif" font-style="italic" font-size="19.3" dy="5.4">r</tspan><tspan font-family="'Liberation Sans',sans-serif" font-size="28.1" dy="-5.4">=Random(20, 40)</tspan></text>
<path d="M343.0 441.2H398.6" stroke="#ffff00" stroke-width="1.8" stroke-dasharray="5.9 2.6" fill="none"/>
<polygon points="370.8,433.2 372.6,438.7 378.4,438.7 373.7,442.1 375.5,447.7 370.8,444.3 366.1,447.7 367.9,442.1 363.2,438.7 369.0,438.7" fill="#ffff00" stroke="#ffff00" stroke-width="0.8"/>
<text y="450.7" font-size="27.6" fill="#000" stroke="#000" stroke-width="0.4"><tspan x="421.4" font-family="'DejaVu Sans',sans-serif" font-style="italic">N</tspan><tspan font-family="'DejaVu Sans',sans-serif" font-style="italic" font-size="19.3" dy="5.4">r</tspan><tspan font-family="'Liberation Sans',sans-serif" font-size="28.1" dy="-5.4">=Random(25, 35)</tspan></text>
</g>
<g font-family="'Liberation Serif',serif" font-size="27" fill="#000">
<text x="116.0" y="589.2" textLength="41.2" lengthAdjust="spacingAndGlyphs">(a)</text>
<text x="172.5" y="589.2" textLength="99.6" lengthAdjust="spacingAndGlyphs">Impact</text>
<text x="283.6" y="589.2" textLength="35.0" lengthAdjust="spacingAndGlyphs">on</text>
<text x="331.0" y="589.2" textLength="113.0" lengthAdjust="spacingAndGlyphs">training</text>
<text x="456.0" y="589.2" textLength="124.8" lengthAdjust="spacingAndGlyphs">accuracy</text>
</g>
<defs>
<pattern id="hr0" patternUnits="userSpaceOnUse" width="26" height="26" x="0" y="15.6"><path d="M-2 -2L28 28M-2 24L2 28M24 -2L28 2" stroke="#f00" stroke-width="1.2" fill="none"/></pattern>
<pattern id="hk0" patternUnits="userSpaceOnUse" width="26" height="26" x="0" y="13.3"><path d="M-2 28L28 -2M-2 2L2 -2M24 28L28 24" stroke="#000" stroke-width="1.3" fill="none"/></pattern>
<pattern id="hr1" patternUnits="userSpaceOnUse" width="26" height="26" x="0" y="15.2"><path d="M-2 -2L28 28M-2 24L2 28M24 -2L28 2" stroke="#f00" stroke-width="1.2" fill="none"/></pattern>
<pattern id="hk1" patternUnits="userSpaceOnUse" width="26" height="26" x="0" y="12.1"><path d="M-2 28L28 -2M-2 2L2 -2M24 28L28 24" stroke="#000" stroke-width="1.3" fill="none"/></pattern>
<pattern id="hr2" patternUnits="userSpaceOnUse" width="26" height="26" x="0" y="16.1"><path d="M-2 -2L28 28M-2 24L2 28M24 -2L28 2" stroke="#f00" stroke-width="1.2" fill="none"/></pattern>
<pattern id="hk2" patternUnits="userSpaceOnUse" width="26" height="26" x="0" y="11.0"><path d="M-2 28L28 -2M-2 2L2 -2M24 28L28 24" stroke="#000" stroke-width="1.3" fill="none"/></pattern>
<pattern id="hr3" patternUnits="userSpaceOnUse" width="26" height="26" x="0" y="18.0"><path d="M-2 -2L28 28M-2 24L2 28M24 -2L28 2" stroke="#f00" stroke-width="1.2" fill="none"/></pattern>
<pattern id="hk3" patternUnits="userSpaceOnUse" width="26" height="26" x="0" y="9.8"><path d="M-2 28L28 -2M-2 2L2 -2M24 28L28 24" stroke="#000" stroke-width="1.3" fill="none"/></pattern>
<pattern id="hr4" patternUnits="userSpaceOnUse" width="26" height="26" x="0" y="18.8"><path d="M-2 -2L28 28M-2 24L2 28M24 -2L28 2" stroke="#f00" stroke-width="1.2" fill="none"/></pattern>
<pattern id="hk4" patternUnits="userSpaceOnUse" width="26" height="26" x="0" y="10.6"><path d="M-2 28L28 -2M-2 2L2 -2M24 28L28 24" stroke="#000" stroke-width="1.3" fill="none"/></pattern>
<clipPath id="cb"><rect x="77.2" y="642.9" width="617.8" height="471.6"/></clipPath>
<clipPath id="cl1"><rect x="91.2" y="657.2" width="55.5" height="18.7"/></clipPath>
<clipPath id="cl2"><rect x="303.1" y="656.9" width="55.7" height="19.5"/></clipPath>
</defs>
<g stroke="#adadad" stroke-width="1.1" stroke-dasharray="2.9 1.4" fill="none">
<path d="M77.2 1030.1H695.0"/>
<path d="M77.2 945.8H695.0"/>
<path d="M77.2 861.4H695.0"/>
<path d="M77.2 777.1H695.0"/>
<path d="M77.2 692.7H695.0"/>
</g>
<g clip-path="url(#cb)">
<rect x="95.6" y="946.5" width="43.2" height="171.0" fill="url(#hr0)" stroke="#f00" stroke-width="1.8"/>
<rect x="138.8" y="949.2" width="43.2" height="168.3" fill="url(#hk0)" stroke="#000" stroke-width="1.9"/>
<rect x="219.4" y="873.7" width="43.2" height="243.8" fill="url(#hr1)" stroke="#f00" stroke-width="1.8"/>
<rect x="262.6" y="869.3" width="43.2" height="248.2" fill="url(#hk1)" stroke="#000" stroke-width="1.9"/>
<rect x="343.1" y="788.7" width="43.2" height="328.8" fill="url(#hr2)" stroke="#f00" stroke-width="1.8"/>
<rect x="386.4" y="805.6" width="43.2" height="311.9" fill="url(#hk2)" stroke="#000" stroke-width="1.9"/>
<rect x="466.9" y="722.9" width="43.2" height="394.6" fill="url(#hr3)" stroke="#f00" stroke-width="1.8"/>
<rect x="510.1" y="714.5" width="43.2" height="403.0" fill="url(#hk3)" stroke="#000" stroke-width="1.9"/>
<rect x="590.6" y="665.0" width="43.2" height="452.5" fill="url(#hr4)" stroke="#f00" stroke-width="1.8"/>
<rect x="633.9" y="662.8" width="43.2" height="454.7" fill="url(#hk4)" stroke="#000" stroke-width="1.9"/>
</g>
<g stroke="#000" fill="none">
<path d="M77.2 642.4V1115.1" stroke-width="1.7"/>
<path d="M76.4 642.9H695" stroke-width="1.15" stroke="#111"/>
<path d="M76.4 1114.5H695" stroke-width="1.3"/>
<path d="M694.9 642.9V1114.5" stroke-width="0.7" stroke="#bbb"/>
<g stroke-width="1.3">
<path d="M73.3 1114.5H77.2"/>
<path d="M73.3 1030.1H77.2"/>
<path d="M73.3 945.8H77.2"/>
<path d="M73.3 861.4H77.2"/>
<path d="M73.3 777.1H77.2"/>
<path d="M73.3 692.7H77.2"/>
<path d="M138.8 1114.5V1118.5"/>
<path d="M262.6 1114.5V1118.5"/>
<path d="M386.4 1114.5V1118.5"/>
<path d="M510.1 1114.5V1118.5"/>
<path d="M633.9 1114.5V1118.5"/>
</g></g>
<g font-family="'DejaVu Sans',sans-serif" font-size="26.6" fill="#000">
<g text-anchor="end">
<text x="68.2" y="1124.3">0</text>
<text x="68.2" y="1039.9">5</text>
<text x="68.2" y="955.6">10</text>
<text x="68.2" y="871.2">15</text>
<text x="68.2" y="786.9">20</text>
<text x="68.2" y="702.5">25</text>
</g><g text-anchor="middle">
<text x="138.8" y="1142">10</text>
<text x="262.6" y="1142">20</text>
<text x="386.4" y="1142">30</text>
<text x="510.1" y="1142">40</text>
<text x="633.9" y="1142">50</text>
</g></g>
<g font-family="'Liberation Sans',sans-serif" font-size="32.3" fill="#000" stroke="#000" stroke-width="0.4">
<text x="385.3" y="1174" text-anchor="middle">Number of clients</text>
<text transform="translate(24 877.5) rotate(-90)" text-anchor="middle">Time (minutes)</text>
</g>
<g clip-path="url(#cl1)" stroke="#f00" stroke-width="1.2"><path d="M84.5 647.6L121.4 685M109.7 647.6L146.8 685M59 647.6L96 685M135.5 647.6L172 685"/></g>
<rect x="91.2" y="657.2" width="55.5" height="18.7" fill="none" stroke="#f00" stroke-width="1.9"/>
<g clip-path="url(#cl2)" stroke="#000" stroke-width="1.3"><path d="M330 647.8L300 677.8M356.4 647.8L326.4 677.8M382.8 647.8L352.8 677.8M303.6 647.8L273.6 677.8"/></g>
<rect x="303.1" y="656.9" width="55.7" height="19.5" fill="none" stroke="#000" stroke-width="2"/>
<g font-family="'Liberation Sans',sans-serif" font-size="27.6" fill="#000" stroke="#000" stroke-width="0.4">
<text x="169.4" y="676.6">Random</text>
<text x="380.6" y="676.6">Constant</text>
</g>
<g font-family="'Liberation Serif',serif" font-size="27" fill="#000">
<text x="146.0" y="1231.2" textLength="43.8" lengthAdjust="spacingAndGlyphs">(b)</text>
<text x="204.1" y="1231.2" textLength="99.8" lengthAdjust="spacingAndGlyphs">Impact</text>
<text x="315.5" y="1231.2" textLength="34.4" lengthAdjust="spacingAndGlyphs">on</text>
<text x="362.3" y="1231.2" textLength="112.7" lengthAdjust="spacingAndGlyphs">training</text>
<text x="487.8" y="1231.2" textLength="63.5" lengthAdjust="spacingAndGlyphs">time</text>
</g>
</svg>
</body></html>
